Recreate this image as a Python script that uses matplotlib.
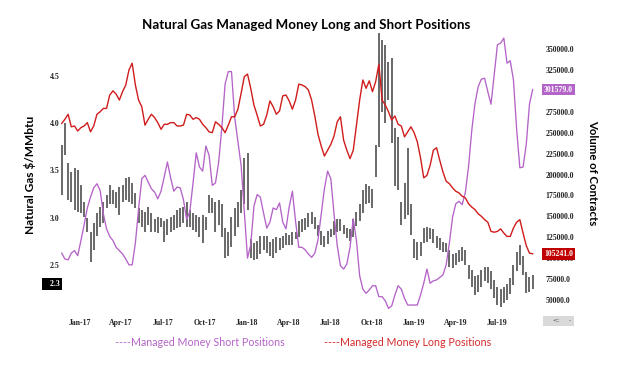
import numpy as np
import pandas as pd
import matplotlib
matplotlib.use("Agg")
import matplotlib.pyplot as plt
import matplotlib.dates as mdates
from matplotlib.transforms import blended_transform_factory
from matplotlib.patches import Rectangle

# weekly data, Tuesday reports
dates = pd.date_range("2016-11-22", periods=148, freq="7D")

long_pos = [
    261000, 266000, 272000, 257000, 258000, 252000, 256000, 258000, 262000, 251000,
    258000, 272000, 275000, 279000, 279000, 295000, 300000, 296000, 289000, 299000,
    307000, 325000, 333000, 307000, 289000, 281000, 259000, 266000, 272000, 268000,
    262000, 254000, 260000, 260000, 262000, 262000, 258000, 258000, 259000, 272000,
    271000, 266000, 268000, 266000, 260000, 256000, 251000, 250000, 263000, 260000,
    256000, 250000, 259000, 269000, 269000, 278000, 297000, 317000, 320000, 303000,
    283000, 271000, 258000, 260000, 271000, 288000, 281000, 272000, 276000, 294000,
    295000, 288000, 278000, 289000, 308000, 307000, 305000, 301000, 289000, 270000,
    248000, 234000, 222000, 229000, 236000, 246000, 263000, 269000, 241000, 229000,
    219000, 229000, 259000, 289000, 313000, 303000, 312000, 299000, 311000, 332000,
    289000, 283000, 275000, 265000, 270000, 260000, 258000, 245000, 251000, 257000,
    250000, 239000, 220000, 196000, 199000, 211000, 229000, 232000, 217000, 203000,
    192000, 189000, 184000, 180000, 178000, 174000, 172000, 165000, 161000, 158000,
    153000, 150000, 146000, 143000, 132000, 131000, 132000, 135000, 130000, 126000,
    126000, 136000, 143000, 146000, 130000, 115000, 106000, 105241]

short_pos = [
    106000, 99000, 98000, 106000, 109000, 103000, 121000, 140000, 160000, 173000,
    184000, 189000, 181000, 153000, 135000, 126000, 121000, 113000, 109000, 105000,
    99000, 92000, 92000, 118000, 159000, 195000, 199000, 191000, 183000, 179000,
    171000, 180000, 197000, 215000, 196000, 180000, 185000, 184000, 170000, 146000,
    156000, 190000, 226000, 209000, 204000, 234000, 223000, 187000, 190000, 215000,
    257000, 308000, 323000, 323000, 268000, 239000, 211000, 156000, 100000, 116000,
    162000, 176000, 173000, 154000, 136000, 143000, 160000, 158000, 166000, 143000,
    135000, 161000, 180000, 144000, 113000, 113000, 110000, 105000, 101000, 106000,
    122000, 153000, 183000, 204000, 195000, 153000, 115000, 91000, 87000, 93000,
    113000, 147000, 121000, 79000, 63000, 58000, 62000, 67000, 67000, 54000,
    54000, 49000, 40000, 43000, 56000, 67000, 63000, 52000, 44000, 44000,
    44000, 44000, 56000, 70000, 87000, 70000, 73000, 74000, 77000, 80000,
    92000, 118000, 149000, 165000, 168000, 164000, 179000, 210000, 253000, 285000,
    305000, 314000, 315000, 299000, 284000, 319000, 355000, 357000, 363000, 333000,
    336000, 313000, 254000, 208000, 209000, 236000, 284000, 301579]

price_high = [
    3.77, 4.00, 3.58, 3.48, 3.53, 3.50, 3.35, 3.16, 3.00, 2.85,
    2.94, 3.05, 3.11, 3.16, 3.24, 3.35, 3.29, 3.27, 3.32, 3.35,
    3.42, 3.43, 3.37, 3.26, 3.10, 3.08, 3.06, 3.11, 3.05, 2.98,
    3.01, 3.00, 2.96, 2.98, 3.01, 3.03, 3.08, 3.10, 3.11, 3.17,
    3.08, 3.05, 3.03, 3.01, 3.03, 3.01, 3.24, 3.21, 3.16, 3.19,
    3.14, 2.89, 2.85, 3.01, 3.10, 3.16, 3.29, 3.63, 3.68, 2.77,
    2.73, 2.75, 2.80, 2.81, 2.80, 2.74, 2.77, 2.79, 2.78, 2.81,
    2.84, 2.82, 2.85, 2.85, 2.96, 2.98, 3.00, 3.05, 3.06, 3.01,
    2.92, 2.86, 2.81, 2.86, 2.88, 2.96, 2.98, 2.99, 2.92, 2.89,
    2.88, 2.98, 3.06, 3.14, 3.29, 3.36, 3.33, 3.30, 3.77, 4.96,
    4.88, 4.83, 4.65, 4.69, 3.95, 3.85, 3.17, 3.37, 3.74, 3.14,
    2.77, 2.74, 2.74, 2.89, 2.90, 2.89, 2.88, 2.81, 2.78, 2.74,
    2.73, 2.66, 2.61, 2.63, 2.66, 2.69, 2.66, 2.50, 2.45, 2.38,
    2.39, 2.45, 2.48, 2.48, 2.43, 2.34, 2.27, 2.24, 2.27, 2.30,
    2.36, 2.50, 2.64, 2.71, 2.59, 2.42, 2.37, 2.39]

price_low = [
    3.24, 3.66, 3.19, 3.16, 3.08, 3.06, 3.05, 3.01, 2.85, 2.53,
    2.66, 2.80, 2.90, 2.94, 3.10, 3.14, 3.14, 3.10, 3.03, 3.16,
    3.19, 3.17, 3.14, 3.10, 2.94, 2.90, 2.85, 2.92, 2.85, 2.85,
    2.84, 2.90, 2.74, 2.82, 2.85, 2.87, 2.89, 2.90, 2.94, 2.90,
    2.90, 2.87, 2.85, 2.79, 2.73, 2.87, 3.05, 3.05, 2.85, 2.92,
    2.79, 2.57, 2.59, 2.69, 2.80, 2.90, 3.05, 3.14, 3.08, 2.57,
    2.55, 2.56, 2.61, 2.66, 2.63, 2.59, 2.57, 2.63, 2.66, 2.68,
    2.71, 2.71, 2.71, 2.77, 2.79, 2.85, 2.87, 2.90, 2.93, 2.88,
    2.81, 2.71, 2.69, 2.72, 2.79, 2.82, 2.85, 2.86, 2.83, 2.78,
    2.75, 2.79, 2.91, 2.96, 3.05, 3.14, 3.15, 3.10, 3.43, 3.75,
    4.12, 4.00, 4.25, 3.79, 3.33, 3.29, 2.92, 2.98, 3.03, 2.82,
    2.57, 2.55, 2.59, 2.73, 2.74, 2.77, 2.73, 2.68, 2.66, 2.64,
    2.64, 2.48, 2.47, 2.50, 2.53, 2.54, 2.50, 2.35, 2.26, 2.18,
    2.21, 2.26, 2.33, 2.31, 2.24, 2.15, 2.07, 2.05, 2.10, 2.13,
    2.19, 2.29, 2.43, 2.50, 2.39, 2.20, 2.21, 2.24]

tick_months = ["2017-01-01", "2017-04-01", "2017-07-01", "2017-10-01",
               "2018-01-01", "2018-04-01", "2018-07-01", "2018-10-01",
               "2019-01-01", "2019-04-01", "2019-07-01"]
price_ticks = [2.5, 3.0, 3.5, 4.0, 4.5]
# 300000 sits under the short-position flag, so it is left out
volume_ticks = [50000, 75000, 100000, 125000, 150000, 175000, 200000,
                225000, 250000, 275000, 325000, 350000]
last_price = 2.3

red = "#d01c1c"
purple = "#b463c8"
serif = "Liberation Serif"
sans = "Lato"

W, H = 623, 370
fig = plt.figure(figsize=(W / 100, H / 100), dpi=100)
ax_l, ax_r, ax_t, ax_b = 61, 540, 28.75, 312
ax = fig.add_axes([ax_l / W, 1 - ax_b / H, (ax_r - ax_l) / W, (ax_b - ax_t) / H])
ax2 = ax.twinx()

# x range from pixel layout of reference (0.4577 px per day)
t0 = mdates.date2num(pd.Timestamp("2017-01-01"))
ppd = 0.4577
ax.set_xlim(t0 + (ax_l - 80) / ppd, t0 + (ax_r - 80) / ppd)
ax.set_ylim(2.0, 5.0)
ax2.set_ylim(35663, 374203)

# price bars
ax.vlines(dates, price_low, price_high, color="#404040", lw=1.1, clip_on=False)

# positions
ax2.plot(dates, short_pos, color=purple, lw=0.95)
ax2.plot(dates, long_pos, color=red, lw=1.0)

for a in (ax, ax2):
    for s in a.spines.values():
        s.set_visible(False)

ax.set_xticks(pd.to_datetime(tick_months))
ax.xaxis.set_major_formatter(mdates.DateFormatter("%b-%y"))
ax.set_yticks(price_ticks)
ax.set_yticklabels([f"{v:.1f}" for v in price_ticks])
ax2.set_yticks(volume_ticks)
ax2.set_yticklabels([f"{v:.1f}" for v in volume_ticks])
ax.tick_params(axis="x", length=0, pad=5)
ax.tick_params(axis="y", length=0, pad=1)
ax2.tick_params(axis="y", length=0, pad=4)
for lab in ax.get_xticklabels() + ax.get_yticklabels() + ax2.get_yticklabels():
    lab.set_fontfamily(serif)
    lab.set_fontweight("bold")
    lab.set_fontsize(5.6)
    lab.set_color("#222222")

# value flags
tr_r = blended_transform_factory(ax2.transAxes, ax2.transData)
ax2.text(1.0085, short_pos[-1], f"{short_pos[-1]:.1f}", transform=tr_r,
         ha="left", va="center", fontsize=5.6, family=serif, weight="bold",
         color="white", bbox=dict(boxstyle="square,pad=0.25", fc=purple, ec="none"),
         zorder=5)
ax2.text(1.0085, long_pos[-1], f"{long_pos[-1]:.1f}", transform=tr_r,
         ha="left", va="center", fontsize=5.6, family=serif, weight="bold",
         color="white", bbox=dict(boxstyle="square,pad=0.25", fc="#c00000", ec="none"),
         zorder=5)
tr_l = blended_transform_factory(ax.transAxes, ax.transData)
ax.text(-0.003, last_price, f"   {last_price:.1f}", transform=tr_l,
        ha="right", va="center", fontsize=5.6, family=serif, weight="bold",
        color="white", bbox=dict(boxstyle="square,pad=0.25", fc="black", ec="none"))

# small scroll widget, bottom right
fig.patches.append(Rectangle((543 / W, 1 - 326 / H), 31 / W, 10 / H,
                             transform=fig.transFigure, fc="#d9d9d9", ec="none"))
fig.text(556 / W, 1 - 321 / H, "<:", fontsize=4.5, ha="center", va="center", color="#444444")
fig.text(570 / W, 1 - 321 / H, "-", fontsize=4.5, ha="center", va="center", color="#444444")

fig.text(306 / W, 1 - 25 / H, "Natural Gas Managed Money Long and Short Positions",
         ha="center", va="center", fontsize=9.6, family=sans, weight="bold")
fig.text(30 / W, 1 - 175 / H, "Natural Gas $/MMbtu", rotation=90, ha="center",
         va="center", fontsize=8.6, family=sans, weight="bold")
fig.text(593 / W, 1 - 173 / H, "Volume of Contracts", rotation=-90, ha="center",
         va="center", fontsize=8.2, family=sans, weight="bold")
fig.text(200 / W, 1 - 343 / H, "----Managed Money Short Positions", ha="center",
         va="center", fontsize=7.7, family=sans, color=purple)
fig.text(408 / W, 1 - 343 / H, "----Managed Money Long Positions", ha="center",
         va="center", fontsize=7.7, family=sans, color="#d42a2a")

fig.savefig("out.png", dpi=100)
